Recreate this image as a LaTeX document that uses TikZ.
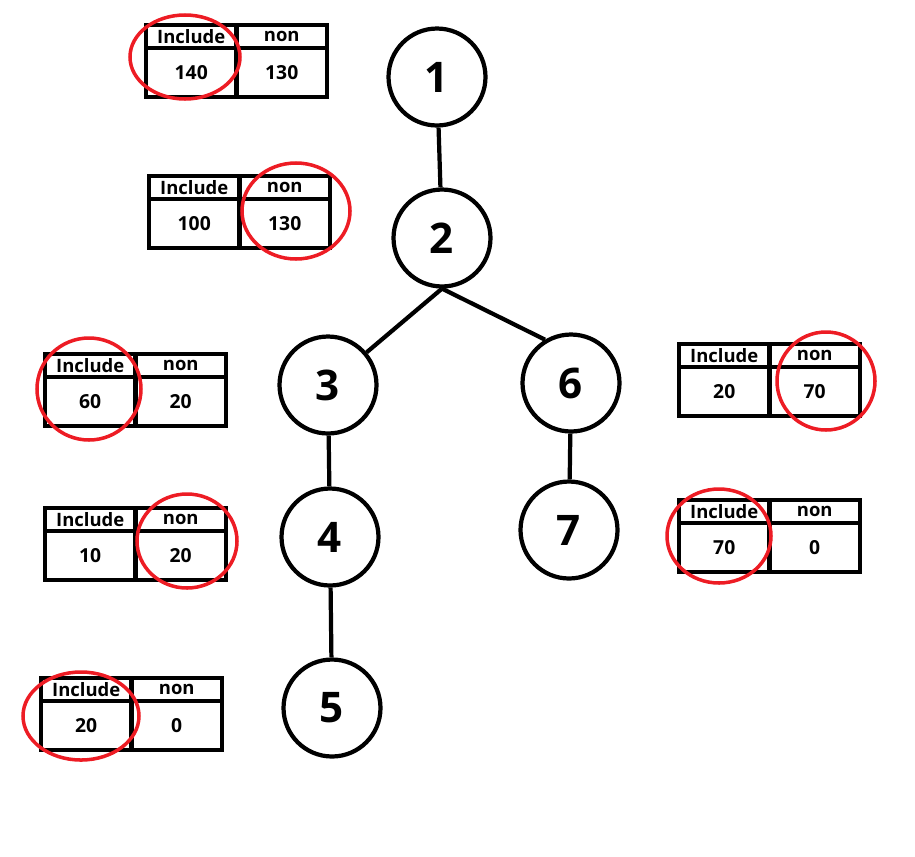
\documentclass[tikz,border=0pt]{standalone}
\usepackage{fontspec}
\setmainfont{Open Sans}
\usetikzlibrary{positioning,calc}
\definecolor{ringred}{RGB}{237,28,36}

% one Include/non table: name, north west corner, include value, non value
\newcommand{\valtable}[4]{%
  \node[cell, hdr, anchor=north west] (#1a) at (#2) {Include};
  \node[cell, hdr, right=0pt of #1a] (#1b) {non};
  \node[cell, val, below=0pt of #1a] (#1c) {#3};
  \node[cell, val, below=0pt of #1b] (#1d) {#4};
}

\begin{document}
\begin{tikzpicture}[x=0.02cm, y=-0.02cm,
  vert/.style={circle, draw, line width=2.4pt, minimum size=1.94cm, inner sep=0pt,
    font=\fontsize{24}{28}\selectfont\bfseries},
  edge/.style={line width=2.4pt},
  cell/.style={draw, line width=2.4pt, outer sep=0pt, inner sep=0pt, minimum width=1.81cm},
  hdr/.style={minimum height=0.46cm, font=\fontsize{10.5}{12}\selectfont\bfseries},
  val/.style={minimum height=0.98cm, font=\fontsize{11}{13}\selectfont\bfseries},
  ring/.style={draw=ringred, line width=2pt}]
  \useasboundingbox (0,0) rectangle (915,856);

  % tree
  \node[vert] (n1) at (437,77) {1};
  \node[vert] (n2) at (442,238) {2};
  \node[vert] (n3) at (328,385) {3};
  \node[vert] (n6) at (571,383) {6};
  \node[vert] (n4) at (330,537) {4};
  \node[vert] (n7) at (569,530) {7};
  \node[vert] (n5) at (332,708) {5};
  \draw[edge] (n1) -- (n2);
  \draw[edge] (n2.south) -- (n3);
  \draw[edge] (n2.south) -- (n6.121);
  \draw[edge] (n3) -- (n4);
  \draw[edge] (n6) -- (n7);
  \draw[edge] (n4) -- (n5);

  % tables
  \valtable{ta}{146,25}{140}{130}
  \valtable{tb}{149,176}{100}{130}
  \valtable{tc}{45,354}{60}{20}
  \valtable{td}{45,508}{10}{20}
  \valtable{te}{41,678}{20}{0}
  \valtable{tf}{679,344}{20}{70}
  \valtable{tg}{679,500}{70}{0}

  % chosen values
  \draw[ring] (185,57) ellipse (55 and 42);
  \draw[ring] (296,211) ellipse (54 and 48);
  \draw[ring] (89,389) ellipse (52 and 51);
  \draw[ring] (187,541) ellipse (50 and 47);
  \draw[ring] (81,716) ellipse (58 and 44);
  \draw[ring] (826,381) ellipse (49 and 49);
  \draw[ring] (719,536) ellipse (52 and 47);
\end{tikzpicture}
\end{document}
